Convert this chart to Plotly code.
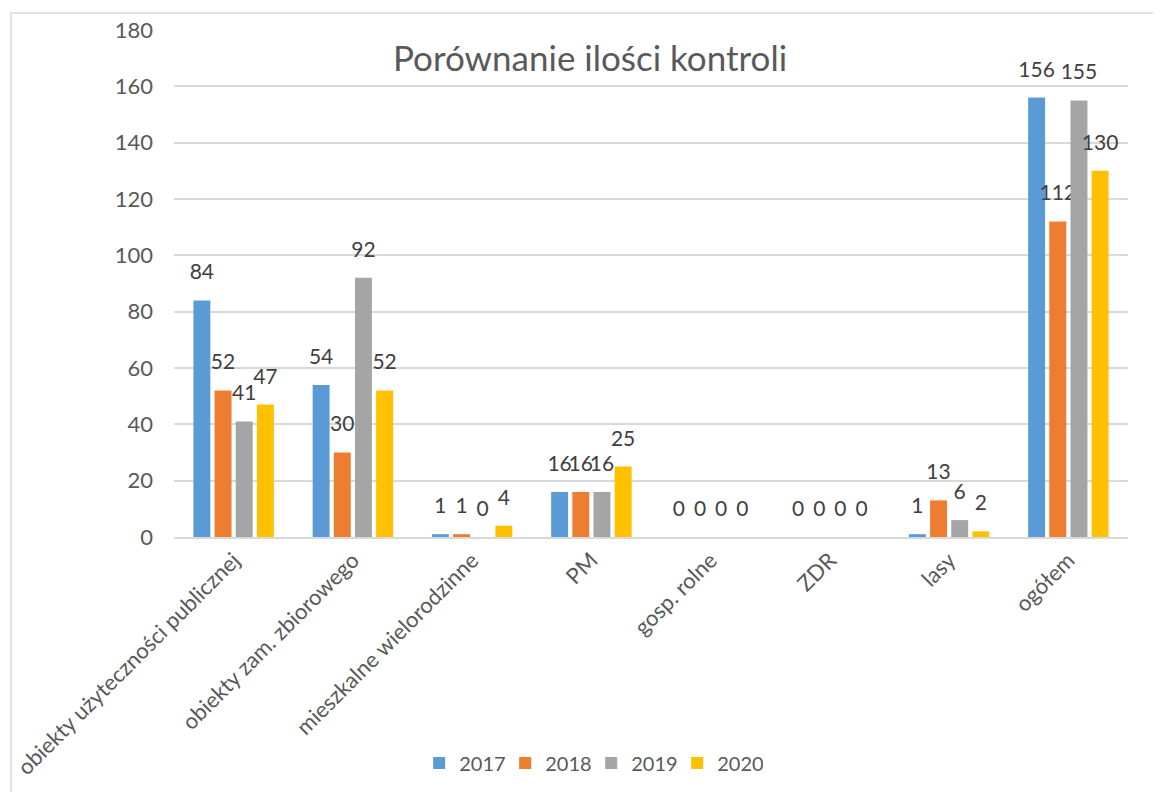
import plotly.graph_objects as go

categories = ['obiekty użyteczności publicznej', 'obiekty zam. zbiorowego',
              'mieszkalne wielorodzinne', 'PM', 'gosp. rolne', 'ZDR', 'lasy', 'ogółem']
years = ['2017', '2018', '2019', '2020']
v2017 = [84, 54, 1, 16, 0, 0, 1, 156]
v2018 = [52, 30, 1, 16, 0, 0, 13, 112]
v2019 = [41, 92, 0, 16, 0, 0, 6, 155]
v2020 = [47, 52, 4, 25, 0, 0, 2, 130]

colors = ['#5B9BD5', '#ED7D31', '#A5A5A5', '#FFC000']
font = 'Lato, Calibri, sans-serif'
label_gap = 5  # lift of data labels above the bar top, in axis units

fig = go.Figure()
for year, vals, col in zip(years, [v2017, v2018, v2019, v2020], colors):
    fig.add_trace(go.Bar(
        x=categories, y=vals, name=year, offsetgroup=year,
        marker=dict(color=col, line=dict(width=0)),
        hoverinfo='skip'))
    # transparent spacer bar carrying the data label
    fig.add_trace(go.Bar(
        x=categories, y=[label_gap] * len(vals), base=vals, offsetgroup=year,
        marker=dict(color='rgba(0,0,0,0)', line=dict(width=0)), showlegend=False,
        text=[str(v) for v in vals], textposition='outside',
        textangle=0, constraintext='none', cliponaxis=False,
        textfont=dict(family=font, size=21, color='#404040'),
        hoverinfo='skip'))

fig.update_layout(
    width=1161, height=792,
    margin=dict(l=166, r=41, t=22, b=263, autoexpand=False),
    paper_bgcolor='white', plot_bgcolor='white',
    barmode='group', bargap=0.29, bargroupgap=0.2,
    font=dict(family=font, size=21, color='#595959'),
    showlegend=True,
    legend=dict(orientation='h', x=0.257, xanchor='left', y=-0.446, yanchor='middle',
                entrywidth=41, entrywidthmode='pixels',
                font=dict(size=20, color='#595959'), bgcolor='rgba(0,0,0,0)'),
    xaxis=dict(tickangle=-45, showgrid=False, showline=True, linecolor='#D9D9D9',
               linewidth=1.5, ticks='', automargin=False,
               tickfont=dict(size=22, color='#595959')),
    yaxis=dict(range=[0, 180], dtick=20, showgrid=True, gridcolor='#D9D9D9', gridwidth=1.5,
               zeroline=False, showline=False, ticks='', ticklabelstandoff=20,
               automargin=False, tickfont=dict(size=22, color='#595959')),
    annotations=[dict(text='Porównanie ilości kontroli', xref='paper', yref='paper',
                      x=0.436, y=0.947, xanchor='center', yanchor='middle', showarrow=False,
                      font=dict(family=font, size=35, color='#595959'))],
    shapes=[dict(type='rect', xref='paper', yref='paper', x0=-0.1709, x1=1.2,
                 y0=-0.7, y1=1.0335, line=dict(color='#D9D9D9', width=1.5),
                 fillcolor='rgba(0,0,0,0)', layer='below')],
)

fig.write_html("out.html")
